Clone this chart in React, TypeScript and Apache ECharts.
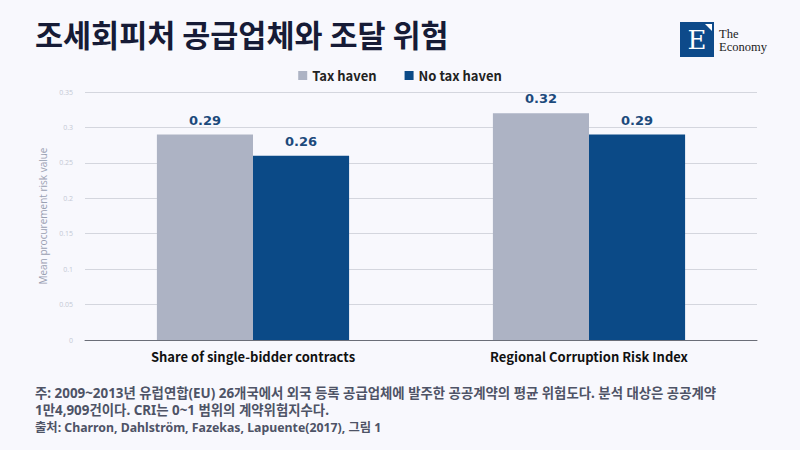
import React, { useEffect, useRef } from "react";
import * as echarts from "echarts";

const categories = ["Share of single-bidder contracts", "Regional Corruption Risk Index"];
const seriesNames = ["Tax haven", "No tax haven"];
const taxHaven = [0.29, 0.32];
const noTaxHaven = [0.26, 0.29];
const yTicks = { min: 0, max: 0.35, interval: 0.05 };
const title = "조세회피처 공급업체와 조달 위험";
const noteLines = [
  "주: 2009~2013년 유럽연합(EU) 26개국에서 외국 등록 공급업체에 발주한 공공계약의 평균 위험도다. 분석 대상은 공공계약",
  "1만4,909건이다. CRI는 0~1 범위의 계약위험지수다.",
];
const source = "출처: Charron, Dahlström, Fazekas, Lapuente(2017), 그림 1";

export default function App() {
  const ref = useRef<HTMLDivElement>(null);
  useEffect(() => {
    if (!ref.current) return;
    const chart = echarts.init(ref.current, undefined, { renderer: "svg" });
    const kr = "'Noto Sans CJK KR', 'Noto Sans', sans-serif";
    const notesFont = "'Noto Sans', 'Noto Sans CJK KR', sans-serif";
    const labelStyle = {
      show: true,
      position: "top" as const,
      distance: 8,
      color: "#1c4a7c",
      fontWeight: "bold" as const,
      fontSize: 13,
      fontFamily: "DejaVu Sans",
    };
    chart.setOption({
      animation: false,
      backgroundColor: "#f8f8fd",
      legend: {
        data: seriesNames,
        top: 64,
        left: "center",
        itemWidth: 9,
        itemHeight: 9,
        itemGap: 28,
        icon: "rect",
        textStyle: { fontFamily: kr, fontWeight: "bold", fontSize: 13, color: "#222" },
      },
      grid: { left: 85, right: 43, top: 92, bottom: 110 },
      xAxis: {
        type: "category",
        data: categories,
        axisTick: { show: false },
        axisLine: { lineStyle: { color: "#6b6e78", width: 1 } },
        axisLabel: { fontFamily: kr, fontWeight: "bold", fontSize: 13, color: "#111", margin: 10 },
      },
      yAxis: {
        type: "value",
        min: yTicks.min,
        max: yTicks.max,
        interval: yTicks.interval,
        name: "Mean procurement risk value",
        nameLocation: "middle",
        nameGap: 30,
        nameTextStyle: { fontFamily: "Open Sans", fontSize: 10, color: "#9aa0b2" },
        axisLabel: { fontFamily: "Open Sans", fontSize: 7, color: "#c4c8d4", margin: 12 },
        splitLine: { lineStyle: { color: "#d4d6de", width: 1 } },
      },
      series: [
        {
          name: seriesNames[0],
          type: "bar",
          data: taxHaven,
          barWidth: "28.6%",
          barGap: "0%",
          itemStyle: { color: "#adb3c4" },
          label: labelStyle,
        },
        {
          name: seriesNames[1],
          type: "bar",
          data: noTaxHaven,
          barWidth: "28.6%",
          itemStyle: { color: "#0b4a87" },
          label: labelStyle,
        },
      ],
      graphic: [
        {
          type: "text",
          left: 35,
          top: 19,
          style: { text: title, fontFamily: kr, fontWeight: "bold", fontSize: 30.5, fill: "#161b36" },
        },
        {
          type: "rect",
          shape: { x: 680, y: 22, width: 34, height: 35 },
          style: { fill: "#0d4a8a" },
        },
        {
          type: "polygon",
          shape: { points: [[705, 24], [712, 24], [712, 31]] },
          style: { fill: "#ffffff" },
        },
        {
          type: "text",
          x: 697,
          y: 40,
          style: { text: "E", fontFamily: "DejaVu Serif", fontSize: 26, fill: "#ffffff", align: "center", verticalAlign: "middle" },
        },
        {
          type: "text",
          x: 719,
          y: 34,
          style: { text: "The", fontFamily: "Liberation Serif", fontSize: 12.5, fill: "#222", verticalAlign: "middle" },
        },
        {
          type: "text",
          x: 719,
          y: 47,
          style: { text: "Economy", fontFamily: "Liberation Serif", fontSize: 12.5, fill: "#222", verticalAlign: "middle" },
        },
        {
          type: "text",
          x: 35,
          y: 392.5,
          style: {
            text: noteLines[0],
            fontFamily: notesFont,
            fontWeight: "bold",
            fontSize: 13.4,
            fill: "#4e5366",
            verticalAlign: "middle",
          },
        },
        {
          type: "text",
          x: 35,
          y: 410,
          style: {
            text: noteLines[1],
            fontFamily: notesFont,
            fontWeight: "bold",
            fontSize: 13.4,
            fill: "#4e5366",
            verticalAlign: "middle",
          },
        },
        {
          type: "text",
          x: 35,
          y: 427,
          style: { text: source, fontFamily: notesFont, fontWeight: "bold", fontSize: 12.3, fill: "#4e5366", verticalAlign: "middle" },
        },
      ],
    });
    return () => chart.dispose();
  }, []);
  return <div ref={ref} style={{ position: "fixed", left: 0, top: 0, width: 800, height: 450 }} />;
}
